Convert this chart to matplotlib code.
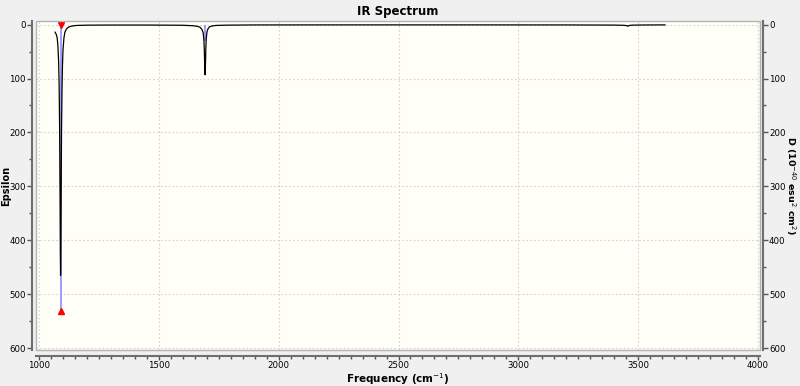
import matplotlib
matplotlib.use("Agg")
import matplotlib.pyplot as plt
from matplotlib.patches import Rectangle
from matplotlib.ticker import MultipleLocator

# Spectrum curve (frequency in cm-1, epsilon)
freq = [1067, 1072, 1076, 1079, 1082, 1084, 1086, 1088, 1089, 1090, 1091, 1092,
        1094, 1096, 1098, 1100, 1104, 1108, 1115, 1122, 1130, 1145, 1160, 1200,
        1300, 1450, 1600, 1640, 1660, 1672, 1680, 1685, 1688, 1690, 1692, 1693,
        1694, 1696, 1698, 1701, 1706, 1712, 1722, 1740, 1780, 1900, 2300, 2800,
        3200, 3400, 3440, 3450, 3455, 3457, 3459, 3464, 3475, 3520, 3612]
eps = [14, 18, 25, 40, 70, 110, 190, 330, 420, 465, 430, 340,
       200, 120, 75, 48, 25, 14, 8, 5, 3.5, 2, 1.5, 1,
       0.8, 0.8, 1.2, 2, 3, 5, 9, 15, 28, 50, 90, 93,
       85, 45, 25, 13, 7, 4, 2.5, 1.5, 1, 0.6, 0.5, 0.5,
       0.6, 0.9, 1.3, 1.8, 2.5, 3, 2.4, 1.5, 1, 0.7, 0.5]

# Stick spectrum (dipole strength)
stick_freq = [1090, 1693, 3457]
stick_D = [532, 30, 2]
selected = 0

title = "IR Spectrum"
xlabel = "Frequency (cm$^{-1}$)"
ylabel_left = "Epsilon"
ylabel_right = "D (10$^{-40}$ esu$^{2}$ cm$^{2}$)"
xticks = [1000, 1500, 2000, 2500, 3000, 3500, 4000]
yticks = [0, 100, 200, 300, 400, 500, 600]

fig = plt.figure(figsize=(8.0, 3.86), dpi=100, facecolor="#f0f0f0")
ax = fig.add_axes([0.045, 0.092, 0.905, 0.854])
ax.set_facecolor("#fffff8")

ax.set_xlim(987.5, 4008.3)
ax.set_ylim(604.5, -7.0)

ax.grid(True, which="major", color="#d2d2d2", linestyle=(0, (1.5, 2)), linewidth=0.8)
ax.set_axisbelow(True)

# sticks
ax.vlines(stick_freq, 0, stick_D, colors="#8c8cff", linewidth=1.2, zorder=2)
ax.plot(freq, eps, color="black", linewidth=0.9, zorder=3)
ax.plot([stick_freq[selected]], [0], marker="v", color="red", markersize=4, zorder=4, clip_on=False)
ax.plot([stick_freq[selected]], [stick_D[selected]], marker="^", color="red", markersize=4, zorder=4)

# frame
ax.add_patch(Rectangle((0, 0), 1, 1, transform=ax.transAxes, fill=False,
                       edgecolor="#b4b4b4", linewidth=1.0, clip_on=False, zorder=5))

for s in ["top", "right"]:
    ax.spines[s].set_visible(False)
ax.spines["left"].set_position(("outward", 3))
ax.spines["bottom"].set_position(("outward", 4))
for s in ["left", "bottom"]:
    ax.spines[s].set_color("#6e6e6e")
    ax.spines[s].set_linewidth(1.5)

ax.set_xticks(xticks)
ax.set_yticks(yticks)
ax.xaxis.set_minor_locator(MultipleLocator(50))
ax.yaxis.set_minor_locator(MultipleLocator(50))
ax.tick_params(which="major", length=3.5, width=1, color="#555555", labelsize=6.2, pad=1)
ax.tick_params(axis="x", which="major", length=3, pad=0.5)
ax.tick_params(which="minor", length=2.5, width=1, color="#555555")

ax2 = ax.twinx()
ax2.set_ylim(ax.get_ylim())
ax2.set_yticks(yticks)
ax2.yaxis.set_minor_locator(MultipleLocator(50))
for s in ["top", "left", "bottom"]:
    ax2.spines[s].set_visible(False)
ax2.spines["right"].set_position(("outward", 2))
ax2.spines["right"].set_color("#6e6e6e")
ax2.spines["right"].set_linewidth(1.5)
ax2.tick_params(which="major", length=3.5, width=1, color="#555555", labelsize=6.2, pad=1)
ax2.tick_params(which="minor", length=2.5, width=1, color="#555555")

ax.set_title(title, fontsize=8.5, fontweight="bold", pad=4)
ax.set_xlabel(xlabel, fontsize=7.5, fontweight="bold")
ax.set_ylabel(ylabel_left, fontsize=7, fontweight="bold")
ax2.set_ylabel(ylabel_right, fontsize=6.8, fontweight="bold", rotation=-90)
ax.xaxis.set_label_coords(0.5, -0.087)
ax.yaxis.set_label_coords(-0.0418, 0.5)
ax2.yaxis.set_label_coords(1.0425, 0.5)
ax2.yaxis.label.set_va("center")
ax.yaxis.label.set_va("center")
ax.xaxis.label.set_va("center")

fig.savefig("out.png", dpi=100, facecolor=fig.get_facecolor())
